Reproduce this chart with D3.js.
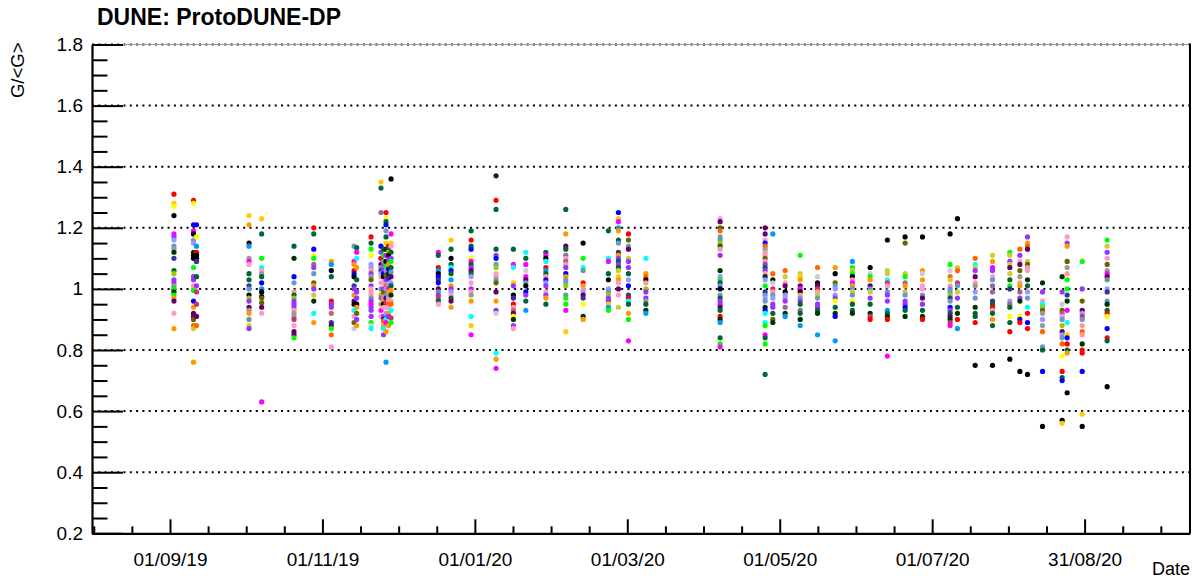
<!DOCTYPE html>
<html><head><meta charset="utf-8">
<script src="https://cdn.jsdelivr.net/npm/d3@7"></script>
<style>
body{margin:0;background:#fff}
svg{display:block}
text{font-family:"Liberation Sans",Arial,Helvetica,sans-serif;fill:#000}
</style>
</head><body>
<svg id="chart" width="1200" height="581"></svg>
<script>
// ---------------- data ----------------
const dates = [
 "2019-09-02T14:00Z","2019-09-10T09:00Z","2019-09-11T14:00Z","2019-10-02T13:00Z","2019-10-07T14:00Z",
 "2019-10-20T12:00Z","2019-10-28T09:00Z","2019-11-04T09:00Z","2019-11-13T11:00Z","2019-11-14T12:00Z",
 "2019-11-20T06:00Z","2019-11-24T05:00Z","2019-11-25T05:00Z","2019-11-26T05:00Z","2019-11-27T05:00Z",
 "2019-11-28T05:00Z","2019-12-17T02:00Z","2019-12-22T04:00Z","2019-12-30T04:00Z","2020-01-09T03:00Z",
 "2020-01-16T01:00Z","2020-01-21T00:00Z","2020-01-29T00:00Z","2020-02-05T23:00Z","2020-02-12T21:00Z",
 "2020-02-22T23:00Z","2020-02-26T23:00Z","2020-03-01T23:00Z","2020-03-08T22:00Z","2020-04-07T13:00Z",
 "2020-04-25T12:00Z","2020-04-28T14:00Z","2020-05-03T12:00Z","2020-05-09T12:00Z","2020-05-16T10:00Z",
 "2020-05-23T11:00Z","2020-05-30T08:00Z","2020-06-06T10:00Z","2020-06-13T07:00Z","2020-06-20T09:00Z",
 "2020-06-27T07:00Z","2020-07-08T08:00Z","2020-07-11T06:00Z","2020-07-18T08:00Z","2020-07-25T06:00Z",
 "2020-08-01T04:00Z","2020-08-05T04:00Z","2020-08-08T05:00Z","2020-08-14T05:00Z","2020-08-22T01:00Z",
 "2020-08-24T01:00Z","2020-08-30T01:00Z","2020-09-09T00:00Z"
];

// one list per date: [G/<G>, colour group]
const gains = [
 [[1.31,0],[1.28,1],[1.27,2],[1.24,3],[1.18,4],[1.17,5],[1.16,6],[1.14,7],[1.13,19],[1.12,23],[1.10,22],[1.06,9],[1.05,11],[1.03,5],[1.02,5],[1.01,19],[1.00,9],[1.00,10],[0.99,23],[0.98,10],[0.97,13],[0.96,15],[0.92,16],[0.87,13]],
 [[1.29,0],[1.28,2],[1.21,8],[1.19,4],[1.18,3],[1.16,7],[1.15,6],[1.12,23],[1.11,3],[1.10,3],[1.07,10],[1.04,5],[1.03,5],[1.01,20],[1.00,16],[0.995,10],[0.96,8],[0.94,13],[0.92,15],[0.91,15],[0.90,12],[0.88,14],[0.87,21],[0.76,13]],
 [[1.21,8],[1.17,2],[1.14,18],[1.12,0],[1.11,3],[1.10,3],[1.09,22],[1.04,9],[1.01,5],[0.99,25],[0.95,25],[0.91,15],[0.88,14]],
 [[1.24,1],[1.21,13],[1.15,3],[1.14,18],[1.10,19],[1.09,4],[1.08,16],[1.05,9],[1.03,9],[1.01,22],[1.00,7],[0.98,3],[0.97,11],[0.96,5],[0.94,15],[0.93,19],[0.92,13],[0.90,26],[0.88,21],[0.87,5]],
 [[1.23,1],[1.18,9],[1.10,10],[1.07,17],[1.06,16],[1.05,19],[1.04,9],[1.02,8],[1.00,18],[0.99,3],[0.975,3],[0.97,12],[0.955,12],[0.94,15],[0.92,16],[0.63,4]],
 [[1.14,9],[1.10,23],[1.04,8],[1.02,7],[0.99,20],[0.98,9],[0.97,11],[0.96,5],[0.95,5],[0.94,5],[0.93,20],[0.92,19],[0.91,19],[0.90,25],[0.88,16],[0.86,15],[0.85,15],[0.84,10]],
 [[1.20,0],[1.18,9],[1.13,8],[1.11,2],[1.10,10],[1.08,24],[1.07,5],[1.05,7],[1.02,12],[1.01,13],[1.00,5],[0.98,21],[0.96,23],[0.92,17],[0.89,13]],
 [[1.09,13],[1.08,18],[1.06,3],[1.04,9],[0.96,0],[0.95,5],[0.94,5],[0.92,28],[0.89,22],[0.88,15],[0.87,10],[0.85,14],[0.81,16]],
 [[1.14,7],[1.09,4],[1.08,13],[1.06,0],[1.05,8],[1.04,3],[1.01,22],[1.00,5],[0.98,13],[0.96,15],[0.95,3],[0.93,17],[0.91,16],[0.89,12],[0.87,27]],
 [[1.135,9],[1.12,4],[1.10,17],[1.07,13],[1.03,9],[0.99,5],[0.97,5],[0.95,3],[0.94,13],[0.92,12],[0.90,5],[0.88,13]],
 [[1.17,0],[1.15,9],[1.13,10],[1.11,2],[1.08,6],[1.07,6],[1.06,20],[1.05,5],[1.04,19],[1.03,12],[1.01,5],[1.00,16],[0.99,20],[0.98,20],[0.97,7],[0.96,5],[0.95,4],[0.94,5],[0.93,5],[0.91,5],[0.89,10],[0.88,27],[0.87,17]],
 [[1.35,1],[1.33,9],[1.25,24],[1.14,8],[1.12,5],[1.10,6],[1.10,0],[1.08,15],[1.07,7],[1.06,22],[1.05,6],[1.04,20],[1.02,16],[1.00,7],[0.98,13],[0.97,24],[0.95,19],[0.93,4],[0.91,16]],
 [[1.13,9],[1.11,10],[1.09,7],[1.075,24],[1.06,5],[1.05,8],[1.04,3],[1.02,16],[1.00,5],[0.99,12],[0.97,6],[0.96,13],[0.95,3],[0.94,20],[0.91,5],[0.90,15],[0.895,14],[0.88,13],[0.87,17],[0.85,5]],
 [[1.25,0],[1.23,2],[1.22,9],[1.21,8],[1.19,7],[1.17,9],[1.15,1],[1.13,23],[1.11,5],[1.09,3],[1.075,10],[1.06,6],[1.045,12],[1.03,5],[1.01,14],[1.00,6],[0.98,7],[0.97,15],[0.956,25],[0.94,16],[0.92,6],[0.90,17],[0.89,4],[0.86,13],[0.76,18]],
 [[1.14,0],[1.13,9],[1.12,13],[1.11,3],[1.095,5],[1.08,13],[1.065,8],[1.05,23],[1.035,22],[1.015,6],[1.00,4],[0.99,13],[0.975,6],[0.964,20],[0.95,14],[0.938,16],[0.92,13],[0.91,5],[0.88,13]],
 [[1.36,3],[1.18,4],[1.15,1],[1.14,16],[1.12,9],[1.10,5],[1.09,10],[1.07,9],[1.055,7],[1.04,15],[1.02,6],[1.01,9],[0.995,13],[0.98,23],[0.96,20],[0.95,14],[0.93,17],[0.905,25],[0.89,10]],
 [[1.12,4],[1.11,9],[1.07,0],[1.06,18],[1.05,3],[1.04,8],[1.03,22],[1.02,8],[1.00,15],[0.99,26],[0.98,5],[0.97,25],[0.96,9],[0.95,16]],
 [[1.16,1],[1.13,9],[1.10,3],[1.08,9],[1.07,17],[1.06,8],[1.05,9],[1.03,18],[1.01,13],[1.00,5],[0.99,6],[0.98,16],[0.97,9],[0.96,15],[0.94,13]],
 [[1.19,9],[1.16,0],[1.14,9],[1.13,8],[1.10,2],[1.09,4],[1.08,9],[1.07,5],[1.06,15],[1.05,9],[1.04,6],[1.02,16],[1.00,5],[0.99,20],[0.98,19],[0.96,13],[0.91,17],[0.88,1],[0.85,4]],
 [[1.37,23],[1.29,0],[1.26,9],[1.13,9],[1.11,5],[1.10,8],[1.08,7],[1.07,11],[1.05,16],[1.04,20],[1.03,7],[1.02,12],[0.99,15],[0.96,13],[0.93,5],[0.92,27],[0.79,17],[0.77,13],[0.74,4]],
 [[1.13,9],[1.08,4],[1.07,17],[1.02,1],[1.01,5],[0.98,3],[0.97,22],[0.95,0],[0.94,20],[0.93,28],[0.92,15],[0.91,2],[0.90,23],[0.88,5],[0.87,16]],
 [[1.12,17],[1.10,9],[1.08,4],[1.06,27],[1.04,4],[1.03,15],[1.02,7],[1.01,3],[0.99,8],[0.98,5],[0.96,9],[0.93,18]],
 [[1.12,9],[1.11,4],[1.10,3],[1.09,17],[1.07,0],[1.06,18],[1.05,9],[1.04,20],[1.03,8],[1.02,6],[1.01,5],[0.99,16],[0.98,5],[0.97,13],[0.95,9]],
 [[1.26,9],[1.18,13],[1.14,15],[1.13,9],[1.11,24],[1.10,16],[1.09,24],[1.08,20],[1.07,5],[1.05,8],[1.04,13],[1.03,7],[1.02,7],[1.01,11],[0.98,26],[0.97,10],[0.95,10],[0.93,4],[0.86,1]],
 [[1.15,3],[1.10,10],[1.07,17],[1.06,26],[1.02,0],[1.01,13],[1.00,20],[0.99,6],[0.98,15],[0.97,22],[0.95,2],[0.91,23],[0.90,13]],
 [[1.19,9],[1.10,17],[1.09,4],[1.05,9],[1.03,3],[1.00,6],[0.99,7],[0.98,11],[0.97,5],[0.96,5],[0.95,1],[0.94,18],[0.93,10]],
 [[1.25,8],[1.23,1],[1.22,4],[1.20,18],[1.19,13],[1.16,9],[1.15,7],[1.12,22],[1.11,13],[1.10,5],[1.09,9],[1.08,5],[1.07,9],[1.06,21],[1.04,1],[1.03,13],[1.02,16],[1.00,15],[0.98,16],[0.94,21]],
 [[1.18,0],[1.16,12],[1.14,7],[1.13,15],[1.10,21],[1.09,5],[1.07,5],[1.05,9],[1.03,6],[1.01,8],[0.98,22],[0.97,0],[0.96,17],[0.95,9],[0.92,13],[0.90,10],[0.83,4]],
 [[1.10,17],[1.05,13],[1.04,14],[1.03,3],[1.02,20],[1.00,11],[0.99,5],[0.97,5],[0.96,19],[0.95,9],[0.93,23],[0.92,18]],
 [[1.23,16],[1.22,15],[1.20,12],[1.19,14],[1.17,7],[1.16,26],[1.15,11],[1.14,9],[1.13,20],[1.11,5],[1.06,23],[1.04,6],[1.03,10],[1.02,22],[1.01,7],[1.00,3],[0.98,7],[0.97,9],[0.96,5],[0.95,5],[0.94,15],[0.93,9],[0.91,0],[0.90,23],[0.89,18],[0.84,9],[0.82,10],[0.81,4]],
 [[1.20,15],[1.18,15],[1.16,16],[1.15,8],[1.14,14],[1.13,19],[1.12,20],[1.11,16],[1.10,12],[1.09,20],[1.08,5],[1.07,9],[1.06,5],[1.05,16],[1.04,23],[1.03,6],[1.01,10],[0.99,22],[0.98,7],[0.97,6],[0.96,7],[0.94,23],[0.93,8],[0.92,17],[0.89,17],[0.88,10],[0.85,4],[0.84,9],[0.82,10],[0.72,9]],
 [[1.18,18],[1.05,14],[1.03,3],[1.02,27],[1.00,25],[0.99,20],[0.98,7],[0.97,6],[0.95,5],[0.94,5],[0.92,9],[0.90,12],[0.89,23]],
 [[1.06,14],[1.04,21],[1.02,16],[1.01,15],[0.99,3],[0.98,6],[0.97,6],[0.96,5],[0.94,24],[0.92,23],[0.91,18]],
 [[1.11,10],[1.05,21],[1.04,1],[1.03,13],[1.01,15],[1.00,4],[0.99,3],[0.98,20],[0.97,7],[0.96,5],[0.95,9],[0.93,24],[0.92,9],[0.90,23],[0.88,18]],
 [[1.07,14],[1.04,27],[1.02,3],[1.01,15],[1.00,25],[0.99,20],[0.98,21],[0.97,7],[0.95,5],[0.94,5],[0.93,9],[0.92,23],[0.85,18]],
 [[1.07,13],[1.05,3],[1.02,12],[1.01,7],[1.00,6],[0.98,6],[0.97,5],[0.96,2],[0.94,9],[0.92,23],[0.91,8],[0.83,18]],
 [[1.09,18],[1.07,10],[1.06,21],[1.05,10],[1.04,3],[1.03,16],[1.02,4],[1.01,13],[1.00,7],[0.99,21],[0.98,7],[0.96,2],[0.95,9],[0.93,9],[0.92,23]],
 [[1.07,3],[1.05,27],[1.04,10],[1.03,13],[1.01,15],[1.00,7],[0.99,21],[0.97,5],[0.95,9],[0.92,23],[0.91,25],[0.90,0]],
 [[1.16,3],[1.06,21],[1.05,21],[1.03,17],[1.02,25],[1.01,16],[0.99,7],[0.98,5],[0.96,5],[0.93,18],[0.92,9],[0.91,23],[0.90,0],[0.78,4]],
 [[1.17,3],[1.15,12],[1.05,21],[1.04,10],[1.02,24],[1.01,13],[0.99,21],[0.98,7],[0.96,5],[0.95,5],[0.94,8],[0.93,9],[0.91,23]],
 [[1.17,3],[1.06,13],[1.05,27],[1.03,13],[1.01,16],[1.00,16],[0.98,7],[0.97,15],[0.95,5],[0.93,9],[0.91,23],[0.90,0]],
 [[1.18,3],[1.08,10],[1.06,27],[1.04,14],[1.03,21],[1.01,20],[1.00,7],[0.99,7],[0.98,11],[0.97,22],[0.96,7],[0.94,8],[0.93,5],[0.92,9],[0.91,15],[0.90,23],[0.89,25],[0.88,4]],
 [[1.23,3],[1.07,21],[1.06,14],[1.02,25],[1.01,7],[0.99,21],[0.97,5],[0.94,9],[0.92,23],[0.90,0],[0.87,18]],
 [[1.10,14],[1.08,17],[1.07,21],[1.06,5],[1.04,15],[1.02,20],[1.01,19],[0.99,6],[0.97,7],[0.94,23],[0.92,9],[0.91,9],[0.89,0],[0.75,3]],
 [[1.11,21],[1.09,13],[1.07,4],[1.06,5],[1.04,16],[1.03,7],[1.01,24],[0.99,24],[0.96,22],[0.95,9],[0.94,0],[0.93,20],[0.92,9],[0.90,13],[0.88,9],[0.75,3]],
 [[1.12,10],[1.11,21],[1.09,5],[1.08,21],[1.07,15],[1.05,21],[1.03,9],[1.01,10],[1.00,22],[0.96,6],[0.95,24],[0.94,9],[0.91,2],[0.89,9],[0.86,0],[0.77,3]],
 [[1.13,14],[1.11,5],[1.09,16],[1.08,15],[1.06,12],[1.04,19],[1.02,20],[1.01,13],[0.99,24],[0.97,5],[0.96,23],[0.91,2],[0.90,8],[0.89,0],[0.73,3]],
 [[1.17,5],[1.15,13],[1.14,14],[1.13,15],[1.09,21],[1.08,12],[1.07,20],[1.06,16],[1.03,23],[1.01,9],[0.99,6],[0.97,7],[0.94,17],[0.92,0],[0.89,8],[0.87,0],[0.72,3]],
 [[1.02,23],[0.99,5],[0.96,16],[0.95,17],[0.94,11],[0.93,12],[0.92,19],[0.90,6],[0.88,19],[0.86,14],[0.81,7],[0.80,9],[0.73,8],[0.55,3]],
 [[1.04,23],[0.99,5],[0.95,27],[0.93,12],[0.92,24],[0.91,16],[0.90,7],[0.88,11],[0.86,15],[0.85,6],[0.84,7],[0.82,14],[0.78,2],[0.73,0],[0.71,9],[0.70,8],[0.57,3],[0.56,1]],
 [[1.17,16],[1.15,5],[1.14,13],[1.09,12],[1.07,19],[1.05,20],[1.03,10],[1.00,10],[0.98,22],[0.96,23],[0.93,4],[0.89,17],[0.85,1],[0.84,8],[0.82,0],[0.80,9],[0.79,13],[0.66,3]],
 [[1.09,10],[1.00,5],[0.96,12],[0.93,15],[0.92,6],[0.91,25],[0.90,7],[0.88,20],[0.86,14],[0.85,20],[0.82,23],[0.80,0],[0.79,0],[0.73,8],[0.59,1],[0.55,3]],
 [[1.16,10],[1.14,21],[1.12,5],[1.10,16],[1.08,12],[1.06,19],[1.05,4],[1.04,15],[1.03,26],[1.00,6],[0.99,22],[0.96,7],[0.95,23],[0.93,9],[0.92,0],[0.91,2],[0.87,8],[0.84,0],[0.83,9],[0.68,3]]
];

const palette = [
 "#ff0000","#ffcc00","#ffff00","#000000","#ff00ff","#9933ff","#9999ff","#6699cc",
 "#0000ff","#006633","#00ff00","#99cc00","#666600","#ff9900","#ff6600","#660066",
 "#ff99cc","#00ffff","#0099ff","#999999","#ff9999","#cccc33","#333399","#003300",
 "#996699","#cc3366","#669999","#cccccc","#cc6666"
];

const yTicks = [0.2,0.4,0.6,0.8,1.0,1.2,1.4,1.6,1.8];
const yTickLabels = ["0.2","0.4","0.6","0.8","1","1.2","1.4","1.6","1.8"];
const xTickLabels = ["01/09/19","01/11/19","01/01/20","01/03/20","01/05/20","01/07/20","31/08/20"];
const xFirstTick = "2019-09-01T00:00Z", xLastTick = "2020-08-31T00:00Z";
const xDomain = ["2019-07-31T21:00Z","2020-10-12T01:30Z"];
const yDomain = [0.2, 1.8];

// ---------------- drawing ----------------
const L = 92, R = 1190, T = 44.5, B = 533.3;
const svg = d3.select("#chart");
const x = d3.scaleUtc().domain(xDomain.map(d => new Date(d))).range([L, R]);
const y = d3.scaleLinear().domain(yDomain).range([B, T]);

// grid
svg.append("g").selectAll("line").data(yTicks.filter(v => v > yDomain[0]))
  .join("line")
  .attr("x1", L).attr("x2", R)
  .attr("y1", d => y(d)).attr("y2", d => y(d))
  .attr("stroke", "#000").attr("stroke-width", 2)
  .attr("stroke-dasharray", "2,4.3");

// frame top (thin) and right
svg.append("line").attr("x1", L).attr("x2", R).attr("y1", y(yDomain[1])).attr("y2", y(yDomain[1]))
  .attr("stroke", "#999").attr("stroke-width", 1);
svg.append("line").attr("x1", R).attr("x2", R).attr("y1", T - 1).attr("y2", B)
  .attr("stroke", "#000").attr("stroke-width", 2);

// points
const pts = [];
dates.forEach((d, i) => gains[i].forEach(([v, g]) => pts.push({t: new Date(d), v, g})));
svg.append("g").selectAll("circle").data(pts).join("circle")
  .attr("cx", d => x(d.t)).attr("cy", d => y(d.v))
  .attr("r", 2.6).attr("fill", d => palette[d.g]);

// x axis
const t0 = +new Date(xFirstTick), t6 = +new Date(xLastTick);
const step = (t6 - t0) / (xTickLabels.length - 1);
const major = xTickLabels.map((_, k) => new Date(t0 + k * step));
const minor = [];
const dom = x.domain().map(Number);
for (let m = -20; m <= 60; m++) {
  const t = t0 + m * step / 4;
  if (m % 4 !== 0 && t >= dom[0] && t <= dom[1]) minor.push(new Date(t));
}
const gx = svg.append("g").attr("transform", `translate(0,${B})`)
  .call(d3.axisBottom(x).tickValues(major).tickFormat((d, i) => xTickLabels[i])
    .tickSizeInner(-14).tickSizeOuter(0).tickPadding(19));
gx.select(".domain").attr("stroke-width", 2.2);
gx.selectAll(".tick line").attr("stroke-width", 2);
gx.selectAll("text").attr("font-size", 19).attr("font-family", '"Liberation Sans",Arial,sans-serif');
const gxm = svg.append("g").attr("transform", `translate(0,${B})`)
  .call(d3.axisBottom(x).tickValues(minor).tickFormat("").tickSizeInner(-7).tickSizeOuter(0));
gxm.select(".domain").remove();
gxm.selectAll(".tick line").attr("stroke-width", 2);

// y axis
const gy = svg.append("g").attr("transform", `translate(${L},0)`)
  .call(d3.axisLeft(y).tickValues(yTicks).tickFormat((d, i) => yTickLabels[i])
    .tickSizeInner(-31).tickSizeOuter(0).tickPadding(9));
gy.select(".domain").attr("stroke-width", 2.2);
gy.selectAll(".tick line").attr("stroke-width", 2);
gy.selectAll("text").attr("font-size", 19).attr("font-family", '"Liberation Sans",Arial,sans-serif');
const yMinor = d3.range(yDomain[0], yDomain[1] + 1e-9, 0.05).filter(v => !yTicks.some(t => Math.abs(t - v) < 1e-6));
const gym = svg.append("g").attr("transform", `translate(${L},0)`)
  .call(d3.axisLeft(y).tickValues(yMinor).tickFormat("").tickSizeInner(-15.5).tickSizeOuter(0));
gym.select(".domain").remove();
gym.selectAll(".tick line").attr("stroke-width", 2);

// titles
svg.append("text").attr("x", 97).attr("y", 25)
  .attr("font-size", 23).attr("font-weight", "bold").text("DUNE: ProtoDUNE-DP");
svg.append("text").attr("transform", `translate(24,${T - 2}) rotate(-90)`)
  .attr("text-anchor", "end").attr("font-size", 18.5).text("G/<G>");
svg.append("text").attr("x", R).attr("y", 575)
  .attr("text-anchor", "end").attr("font-size", 18).text("Date");
</script>
</body></html>
